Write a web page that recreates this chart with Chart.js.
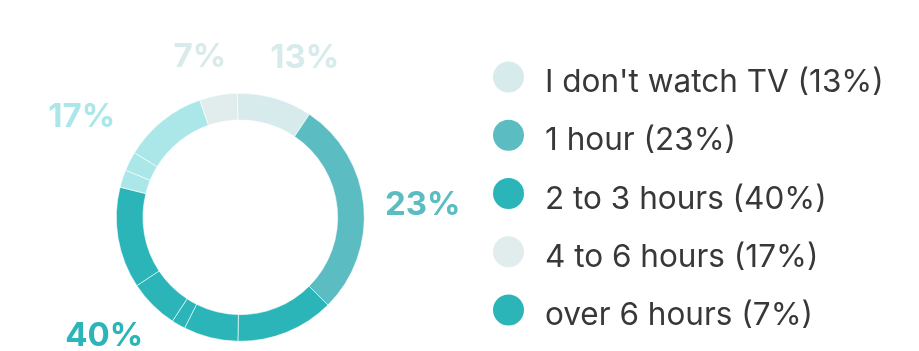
<!DOCTYPE html>
<html>
<head>
<meta charset="utf-8">
<script src="https://cdn.jsdelivr.net/npm/chart.js@4.4.1/dist/chart.umd.min.js"></script>
<style>
  html, body { margin: 0; padding: 0; background: #ffffff; }
  #wrap { position: relative; width: 919px; height: 351px; }
</style>
</head>
<body>
<div id="wrap"><canvas id="c" width="919" height="351"></canvas></div>
<script>
// Legend categories and the percentages printed in the chart
const categories = ["I don't watch TV", "1 hour", "2 to 3 hours", "4 to 6 hours", "over 6 hours"];
const shares = [13, 23, 40, 17, 7];
// Arc sizes as drawn in the ring (share of the circle), with the sub-slices of each group
const ringSlices = [9.8, 28.1, 12.8, 7.1, 1.8, 6.5, 13.2, 2.3, 2.5, 11.0, 4.9];
const ringGroup  = [0, 1, 2, 2, 2, 2, 2, 3, 3, 3, 4];
// Colours
const ringColors   = ['#d7ebec', '#5bbcc1', '#2bb5b9', '#abe7e9', '#e1eced'];
const legendColors = ['#d7ebec', '#5bbcc1', '#2bb5b9', '#e1eced', '#2bb5b9'];
const labelColors  = ['#d7ebec', '#5bbcc1', '#2bb5b9', '#abe7e9', '#d9eaeb'];

// Placement of each percentage label around the ring: [angle from top (deg), distance from centre (px)]
const groupLabelPolar = [ [21.9, 173], [85.8, 183], [229.1, 180], [302.5, 188], [345.9, 166] ];

const overlay = {
  id: 'overlay',
  afterDraw(chart) {
    const ctx = chart.ctx;
    const arc = chart.getDatasetMeta(0).data[0];
    const cx = arc.x, cy = arc.y;
    ctx.save();
    ctx.textAlign = 'center';
    ctx.textBaseline = 'middle';
    ctx.font = '700 33px Inter';
    shares.forEach((s, i) => {
      const [deg, dist] = groupLabelPolar[i];
      const a = deg * Math.PI / 180;
      ctx.fillStyle = labelColors[i];
      ctx.fillText(s + '%', cx + dist * Math.sin(a), cy - dist * Math.cos(a) + 1);
    });
    ctx.textAlign = 'left';
    ctx.textBaseline = 'alphabetic';
    ctx.font = '400 31.5px Inter';
    categories.forEach((c, i) => {
      const y = 77 + 58.25 * i;
      ctx.beginPath();
      ctx.arc(508.5, y, 15.5, 0, Math.PI * 2);
      ctx.fillStyle = legendColors[i];
      ctx.fill();
      ctx.fillStyle = '#383838';
      ctx.fillText(c + ' (' + shares[i] + '%)', 545, y + 15);
    });
    ctx.restore();
  }
};

new Chart(document.getElementById('c'), {
  type: 'doughnut',
  data: {
    labels: ringGroup.map(g => categories[g]),
    datasets: [{
      data: ringSlices,
      backgroundColor: ringGroup.map(g => ringColors[g]),
      borderColor: 'rgba(255,255,255,0.6)',
      borderWidth: 1
    }]
  },
  options: {
    responsive: false,
    animation: false,
    cutout: '78.5%',
    rotation: -1.4,
    layout: { padding: { left: 115.8, right: 554.2, top: 92.8, bottom: 9.2 } },
    plugins: { legend: { display: false }, tooltip: { enabled: false } }
  },
  plugins: [overlay]
});
</script>
</body>
</html>
